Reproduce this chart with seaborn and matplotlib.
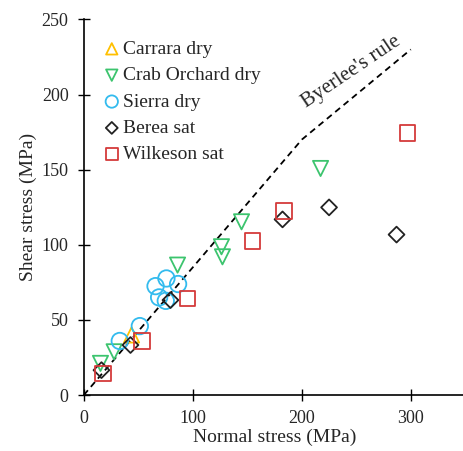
import numpy as np
import pandas as pd
import matplotlib
matplotlib.use('Agg')
import matplotlib.pyplot as plt
import seaborn as sns

# Data
carrara_x = [43.8]
carrara_y = [40.0]
crab_x = [15.3, 27.8, 86.0, 126.3, 127.2, 144.7, 217.2]
crab_y = [21.1, 28.8, 86.5, 98.7, 92.0, 115.3, 150.8]
sierra_x = [33.0, 51.4, 65.8, 75.8, 86.5, 69.1, 75.2]
sierra_y = [36.0, 45.9, 72.5, 77.6, 73.9, 65.0, 62.7]
berea_x = [16.2, 42.8, 79.5, 182.3, 225.0, 286.9]
berea_y = [16.6, 33.3, 63.2, 116.9, 124.9, 106.8]
wilk_x = [17.7, 53.5, 95.1, 154.8, 183.5, 297.0]
wilk_y = [14.4, 35.9, 64.3, 102.3, 122.4, 174.6]

# Byerlee's rule: tau = 0.85 sigma (sigma < 200), tau = 50 + 0.6 sigma
byerlee_x = [0, 200, 300]
byerlee_y = [0, 170, 230]

groups = [
    ('Carrara dry', carrara_x, carrara_y, '^', '#FFC000', 120),
    ('Crab Orchard dry', crab_x, crab_y, 'v', '#3CC46E', 120),
    ('Sierra dry', sierra_x, sierra_y, 'o', '#33BBEE', 140),
    ('Berea sat', berea_x, berea_y, 'D', '#222222', 65),
    ('Wilkeson sat', wilk_x, wilk_y, 's', '#D43A3A', 130),
]

sns.set_style('ticks')
plt.rcParams['font.family'] = ['Liberation Serif', 'DejaVu Serif']

fig = plt.figure(figsize=(4.63, 4.51), dpi=100)
ax = fig.add_axes([0.181, 0.124, 0.824, 0.833])

sns.lineplot(x=byerlee_x, y=byerlee_y, ax=ax, color='black', linestyle=(0, (3.5, 2.5)),
             linewidth=1.3, zorder=1)

for name, xs, ys, mk, col, size in groups:
    df = pd.DataFrame({'x': xs, 'y': ys})
    sns.scatterplot(data=df, x='x', y='y', ax=ax, marker=mk, s=size,
                    facecolors='none', edgecolor=col, linewidth=1.3,
                    label=name, zorder=3)

ax.text(245, 215, "Byerlee's rule", rotation=34, ha='center', va='center', fontsize=15)

ax.set_xlim(0, 350)
ax.set_ylim(0, 250)
ax.set_xticks([0, 100, 200, 300])
ax.set_yticks([0, 50, 100, 150, 200, 250])
ax.tick_params(direction='inout', length=8, width=1, labelsize=13, pad=7, color='black')
for s in ['left', 'bottom']:
    ax.spines[s].set_color('black')
    ax.spines[s].set_linewidth(1.2)
sns.despine(ax=ax)
ax.set_xlabel('Normal stress (MPa)', fontsize=14, labelpad=1)
ax.set_ylabel('Shear stress (MPa)', fontsize=14, labelpad=3)

leg = ax.legend(loc='upper left', bbox_to_anchor=(0.03, 0.965), frameon=False,
                fontsize=14, handlelength=0.9, handletextpad=0.15, borderaxespad=0,
                labelspacing=0.45, markerscale=0.75)

fig.savefig('out.png', dpi=100)
